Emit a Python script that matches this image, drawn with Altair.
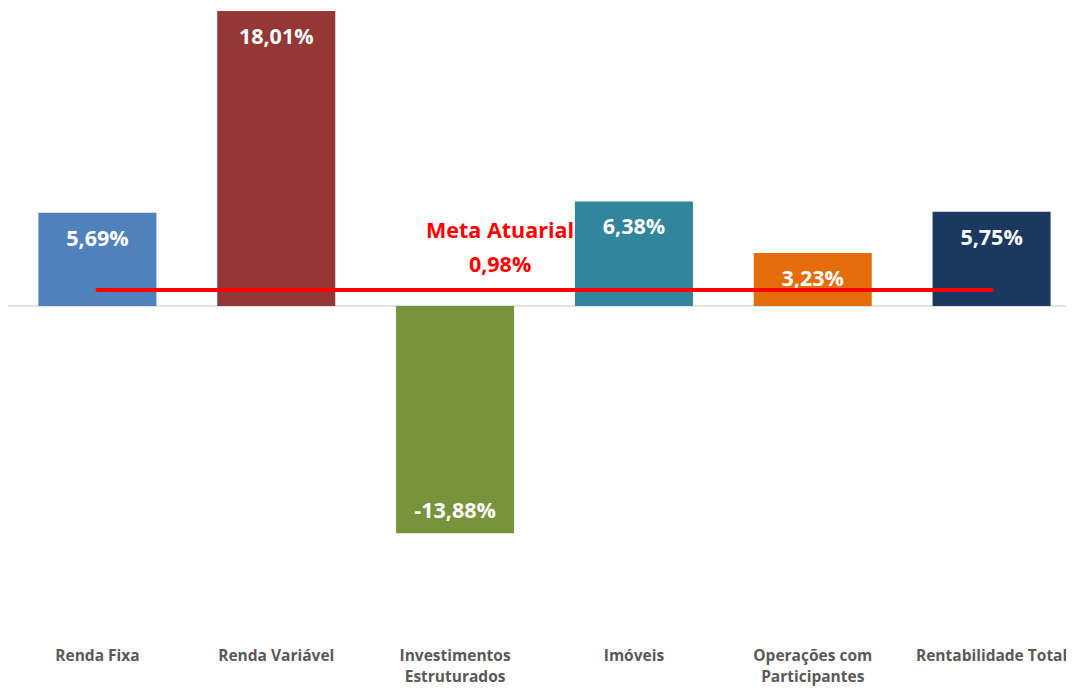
import altair as alt
import pandas as pd

categories = ["Renda Fixa", "Renda Variável", "Investimentos\nEstruturados", "Imóveis",
              "Operações com\nParticipantes", "Rentabilidade Total"]
values = [5.69, 18.01, -13.88, 6.38, 3.23, 5.75]
labels = ["5,69%", "18,01%", "-13,88%", "6,38%", "3,23%", "5,75%"]
colors = ["#4F81BD", "#953735", "#77933C", "#31859C", "#E46C0A", "#1B3861"]
meta_value = 0.98
meta_lines = ["Meta Atuarial", "0,98%"]

FONT = "Open Sans"
W, H = 1058, 680

df = pd.DataFrame({"cat": categories, "value": values, "label": labels})

xscale = alt.Scale(domain=categories, paddingInner=0.34, paddingOuter=0.17, range=[0, 1073])
yscale = alt.Scale(domain=[-23.32, 18.19], nice=False, zero=False)

xaxis = alt.Axis(title=None, labelAngle=0, domain=False, ticks=False,
                 labelExpr="split(datum.label, '\\n')",
                 labelFont=FONT, labelFontSize=15.5, labelFontWeight="bold",
                 labelColor="#595959", labelPadding=0, labelLineHeight=21,
                 labelBaseline="top", offset=-40)
x = alt.X("cat:N", scale=xscale, sort=categories, axis=xaxis)
y = alt.Y("value:Q", scale=yscale, axis=None)

base = alt.Chart(df)

bars = base.mark_bar().encode(
    x=x, y=y,
    color=alt.Color("cat:N", scale=alt.Scale(domain=categories, range=colors), legend=None),
)

zero = alt.Chart(pd.DataFrame({"z": [0]})).mark_rule(color="#D9D9D9", strokeWidth=1.5).encode(
    y=alt.Y("z:Q", scale=yscale, axis=None),
    x=alt.value(0), x2=alt.value(W),
)

pos_text = base.transform_filter("datum.value >= 0").mark_text(
    font=FONT, fontSize=21.5, fontWeight="bold", color="white", baseline="middle", dy=27
).encode(x=x, y=y, text="label:N")

neg_text = base.transform_filter("datum.value < 0").mark_text(
    font=FONT, fontSize=21.5, fontWeight="bold", color="white", baseline="middle", dy=-21
).encode(x=x, y=y, text="label:N")

meta_df = pd.DataFrame({"cat": [categories[0], categories[-1]], "value": [meta_value, meta_value]})
meta_line = alt.Chart(meta_df).mark_line(color="#FF0000", strokeWidth=4, strokeCap="round").encode(
    x=x, y=y
)

meta_text_df = pd.DataFrame({"cat": [categories[2]], "value": [meta_value],
                             "t": ["\n".join(meta_lines)]})
meta_text = alt.Chart(meta_text_df).mark_text(
    font=FONT, fontSize=21.5, fontWeight="bold", color="#FF0000", lineBreak="\n",
    baseline="middle", dx=45, dy=-58, lineHeight=34
).encode(x=x, y=y, text="t:N")

chart = alt.layer(zero, bars, pos_text, neg_text, meta_line, meta_text).properties(
    width=W, height=H, padding=0, autosize=alt.AutoSizeParams(type="none")
).configure_view(stroke=None)

chart.save("out.html", embed_options={"renderer": "svg", "actions": False})
